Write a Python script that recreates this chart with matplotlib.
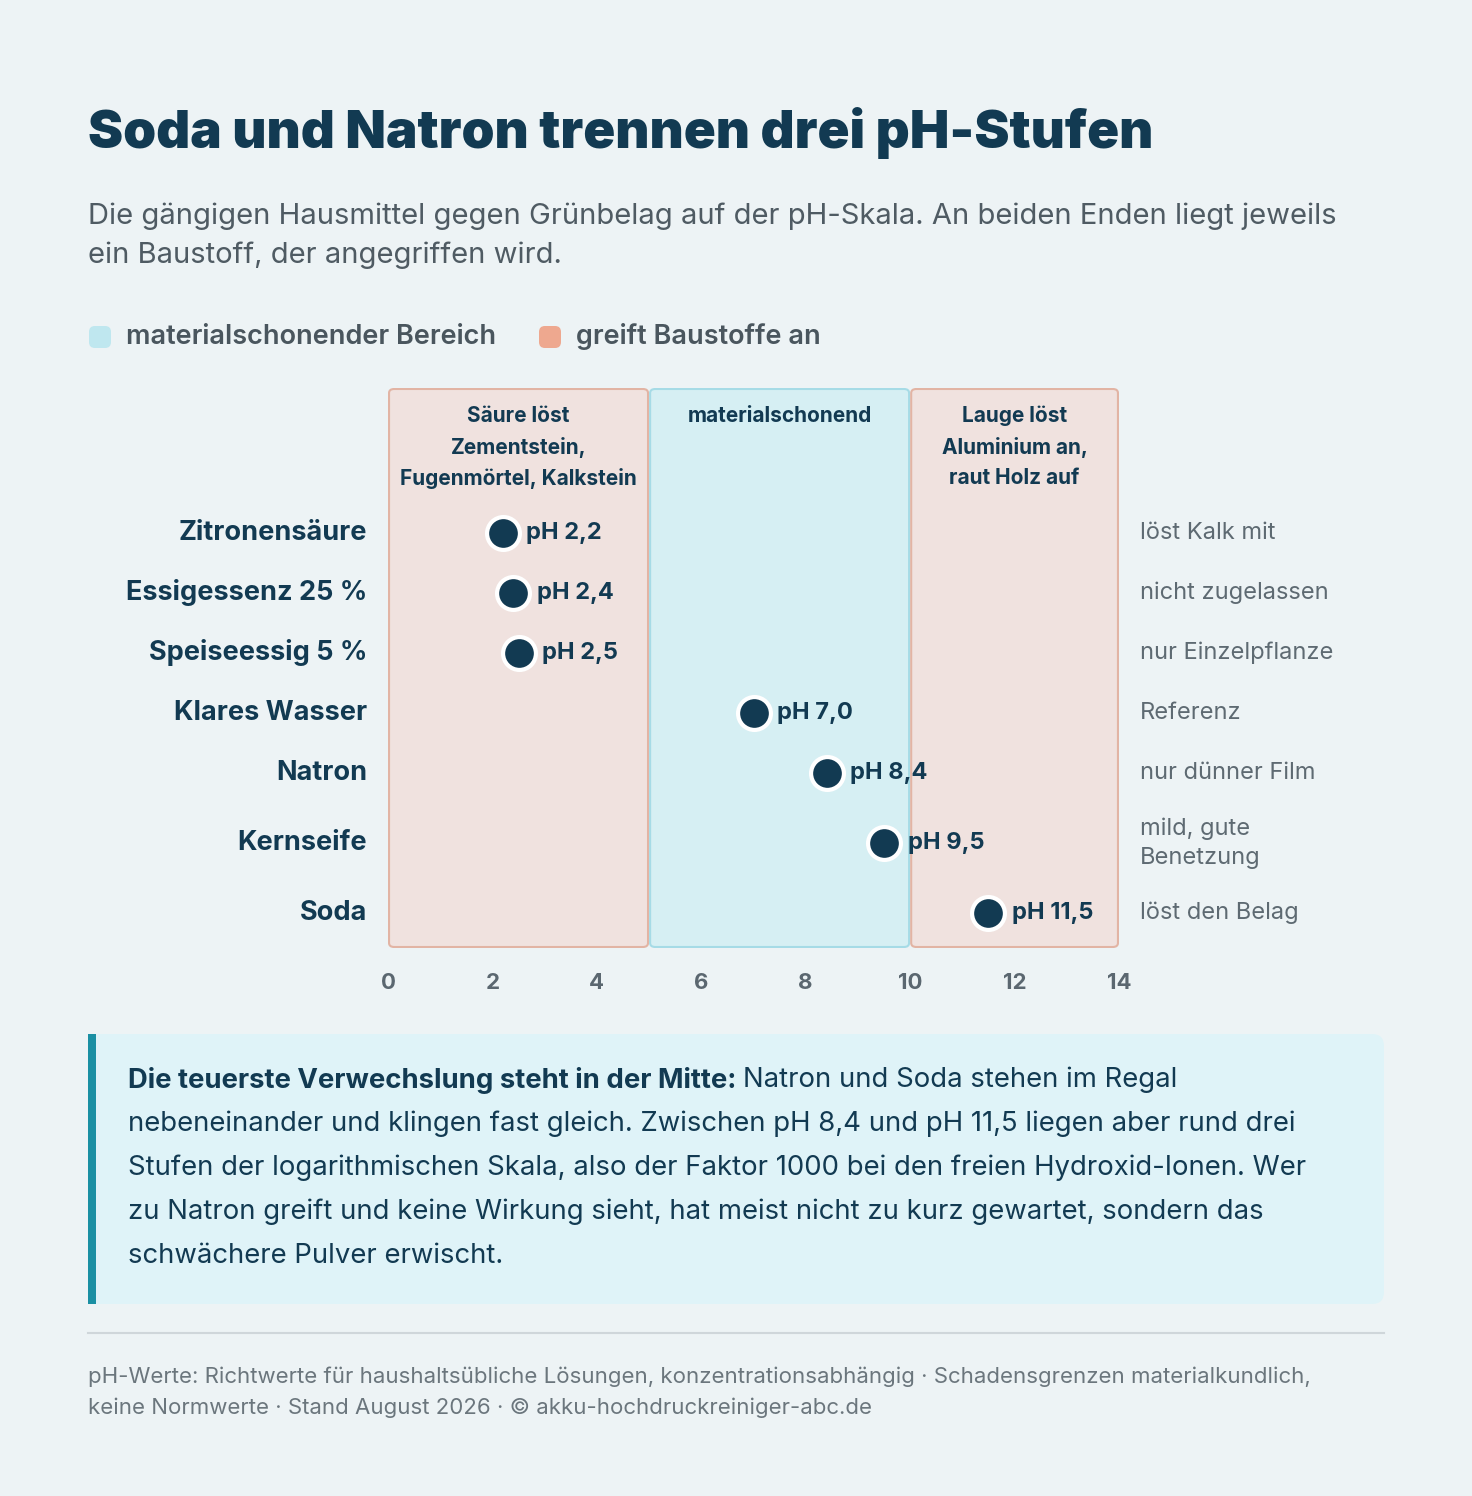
import matplotlib
matplotlib.use("Agg")
import matplotlib.pyplot as plt
from matplotlib.patches import FancyBboxPatch, Rectangle

# ---- data ----
substances = ["Zitronensäure", "Essigessenz 25 %", "Speiseessig 5 %", "Klares Wasser", "Natron", "Kernseife", "Soda"]
ph_values = [2.2, 2.4, 2.5, 7.0, 8.4, 9.5, 11.5]
ph_labels = ["pH 2,2", "pH 2,4", "pH 2,5", "pH 7,0", "pH 8,4", "pH 9,5", "pH 11,5"]
notes = ["löst Kalk mit", "nicht zugelassen", "nur Einzelpflanze", "Referenz", "nur dünner Film", "mild, gute\nBenetzung", "löst den Belag"]
zone_bounds = [(0, 5), (5, 10), (10, 14)]
zone_titles = ["Säure löst\nZementstein,\nFugenmörtel, Kalkstein", "materialschonend", "Lauge löst\nAluminium an,\nraut Holz auf"]
zone_kind = ["harm", "safe", "harm"]
x_ticks = [0, 2, 4, 6, 8, 10, 12, 14]

BG = "#edf3f5"; NAVY = "#123a52"; GRAY = "#5b6770"
HARM_F, HARM_E = "#f0e2df", "#e2b4a4"
SAFE_F, SAFE_E = "#d6eff3", "#a6dbe6"

W, H = 1472, 1496
fig = plt.figure(figsize=(W/100, H/100), dpi=100, facecolor=BG)
plt.rcParams['font.family'] = ['Inter', 'DejaVu Sans']

def fy(p): return 1 - p/H
def fx(p): return p/W

fig.text(fx(88), fy(133), "Soda und Natron trennen drei pH-Stufen", fontsize=38, fontweight='black',
         color=NAVY, va='center')
fig.text(fx(88), fy(236), "Die gängigen Hausmittel gegen Grünbelag auf der pH-Skala. An beiden Enden liegt jeweils\nein Baustoff, der angegriffen wird.",
         fontsize=21, color="#4f5b63", va='center', linespacing=1.55)

# legend
fig.patches.append(FancyBboxPatch((fx(89), fy(348)), fx(22), 22/H, boxstyle="round,pad=0,rounding_size=0.004",
                                  transform=fig.transFigure, fc="#bfe7ef", ec='none'))
fig.text(fx(126), fy(337), "materialschonender Bereich", fontsize=19.5, fontweight='semibold', color="#4a565e", va='center')
fig.patches.append(FancyBboxPatch((fx(539), fy(348)), fx(22), 22/H, boxstyle="round,pad=0,rounding_size=0.004",
                                  transform=fig.transFigure, fc="#eea88f", ec='none'))
fig.text(fx(576), fy(337), "greift Baustoffe an", fontsize=19.5, fontweight='semibold', color="#4a565e", va='center')

# axes
top, bot = 388, 948
ax = fig.add_axes([fx(388), fy(bot), fx(1119-388), (bot-top)/H])
ax.set_facecolor('none')
ax.set_xlim(0, 14)
ax.set_ylim(bot, top)
for s in ax.spines.values(): s.set_visible(False)
ax.set_yticks([])
ax.set_xticks(x_ticks)
ax.set_xticklabels([str(t) for t in x_ticks], fontsize=16, fontweight='bold', color=GRAY)
ax.tick_params(axis='x', length=0, pad=18)

# row positions from note line counts
ys = []
y = 533
for i, n in enumerate(notes):
    if i > 0:
        y += 60 + 10 * (notes[i-1].count("\n") + n.count("\n"))
    ys.append(y)

for (a, b), t, k in zip(zone_bounds, zone_titles, zone_kind):
    fc, ec = (HARM_F, HARM_E) if k == "harm" else (SAFE_F, SAFE_E)
    ax.add_patch(FancyBboxPatch((a + 0.02, top + 1), b - a - 0.04, bot - top - 2,
                                boxstyle="round,pad=0,rounding_size=0.1", fc=fc, ec=ec, lw=1.5, mutation_aspect=40))
    ax.text((a + b) / 2, 406, t, ha='center', va='top', fontsize=15, fontweight='bold', color=NAVY,
            linespacing=1.62)

ax.scatter(ph_values, ys, s=560, c=NAVY, edgecolors='white', linewidths=3, zorder=5)
for x, yy, lab, name, note in zip(ph_values, ys, ph_labels, substances, notes):
    ax.text(x + 0.45, yy, lab, va='center', fontsize=17, fontweight='bold', color=NAVY, zorder=6)
    ax.text(-0.4, yy, name, va='center', ha='right', fontsize=19.5, fontweight='bold', color=NAVY)
    ax.text(14.4, yy, note, va='center', ha='left', fontsize=17, color="#5e6a72", linespacing=1.4)

# callout
fig.patches.append(FancyBboxPatch((fx(88), fy(1304)), fx(1384-88), (1304-1034)/H,
                                  boxstyle="round,pad=0,rounding_size=0.008", transform=fig.transFigure,
                                  fc="#dff3f8", ec='none'))
fig.patches.append(Rectangle((fx(88), fy(1304)), fx(8), (1304-1034)/H, transform=fig.transFigure,
                             fc="#1a8fa3", ec='none'))
fs = 19.8
bt = fig.text(fx(128), fy(1080), "Die teuerste Verwechslung steht in der Mitte:", fontsize=fs, fontweight='bold',
              color=NAVY, va='center')
r = fig.canvas.get_renderer()
ext = bt.get_window_extent(r)
fig.text(ext.x1 / W + fx(7), fy(1080), "Natron und Soda stehen im Regal", fontsize=fs, color=NAVY, va='center')
body = ["nebeneinander und klingen fast gleich. Zwischen pH 8,4 und pH 11,5 liegen aber rund drei",
        "Stufen der logarithmischen Skala, also der Faktor 1000 bei den freien Hydroxid-Ionen. Wer",
        "zu Natron greift und keine Wirkung sieht, hat meist nicht zu kurz gewartet, sondern das",
        "schwächere Pulver erwischt."]
for i, l in enumerate(body):
    fig.text(fx(128), fy(1124 + 44 * i), l, fontsize=fs, color=NAVY, va='center')

fig.add_artist(plt.Line2D([fx(88), fx(1384)], [fy(1333), fy(1333)], color="#cfd6da", lw=1.5))
fig.text(fx(88), fy(1392), "pH-Werte: Richtwerte für haushaltsübliche Lösungen, konzentrationsabhängig · Schadensgrenzen materialkundlich,\nkeine Normwerte · Stand August 2026 · © akku-hochdruckreiniger-abc.de",
         fontsize=16, color="#6b767d", va='center', linespacing=1.65)

fig.savefig("out.png", dpi=100, facecolor=BG)
